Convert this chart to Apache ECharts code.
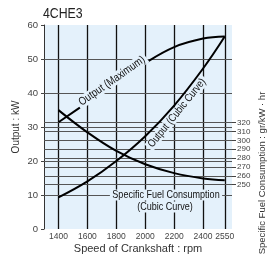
<!DOCTYPE html>
<html>
<head>
<meta charset="utf-8">
<script src="https://cdn.jsdelivr.net/npm/echarts@6/dist/echarts.min.js"></script>
<style>
html, body { margin: 0; padding: 0; background: #fff; }
#chart { width: 273px; height: 255px; }
</style>
</head>
<body>
<div id="chart"></div>
<script>
// data
const speed = [1400, 1600, 1800, 2000, 2200, 2400, 2550];
const outputMax = [31.4, 37.2, 43, 48.8, 53.5, 56, 56.6];
const outputCubic = [9.3, 14, 20, 27.3, 36.3, 47.2, 56.6];
const fuelCons = [334, 309, 288, 273, 263, 257, 255];

const speedTicks = [1400, 1600, 1800, 2000, 2200, 2400, 2550];
const outputTicks = [10, 20, 30, 40, 50];
const fuelTicks = [250, 260, 270, 280, 290, 300, 310, 320];

const FONT = '"Liberation Sans", Arial, sans-serif';
const PLOT_BG = '#e4f1fb';
const NARROW_SCALE = 0.82; // no condensed face installed, squeeze the regular one

const chart = echarts.init(document.getElementById('chart'));

function gridLines(values, key, color, width) {
    return {
        symbol: ['none', 'none'],
        silent: true,
        animation: false,
        z: 1,
        label: { show: false },
        emphasis: { disabled: true },
        lineStyle: { color: color, width: width, type: 'solid' },
        data: values.map(v => ({ [key]: v }))
    };
}

function curve(values, yIndex) {
    return {
        type: 'line',
        yAxisIndex: yIndex,
        data: speed.map((s, i) => [s, values[i]]),
        smooth: 0.4,
        showSymbol: false,
        silent: true,
        z: 3,
        lineStyle: { color: '#000', width: 2 }
    };
}

// condensed-looking text label, angle in degrees (counter-clockwise)
function narrowText(text, x, y, size, angle, z, bg) {
    return {
        type: 'text', x: x, y: y, z: z,
        rotation: angle * Math.PI / 180,
        scaleX: NARROW_SCALE,
        style: {
            text: text,
            font: size + 'px ' + FONT, fill: '#111',
            align: 'center', verticalAlign: 'middle',
            backgroundColor: bg ? PLOT_BG : null,
            padding: bg ? [0, 3] : 0
        }
    };
}

const option = {
    animation: false,
    grid: {
        left: 44, right: 41, top: 25, bottom: 26,
        outerBoundsMode: 'none',
        containLabel: false,
        show: true, backgroundColor: PLOT_BG, borderWidth: 0
    },
    xAxis: {
        type: 'value',
        min: 1300,
        max: 2600,
        name: 'Speed of Crankshaft : rpm',
        nameLocation: 'middle',
        nameGap: 14,
        nameMoveOverlap: false,
        nameTextStyle: { fontFamily: FONT, fontSize: 11, color: '#333' },
        axisLine: { show: false },
        axisTick: { show: false },
        splitLine: { show: false },
        axisLabel: {
            customValues: speedTicks,
            hideOverlap: false,
            formatter: v => String(v),
            fontFamily: FONT, fontSize: 8.5, color: '#444', margin: 3
        }
    },
    yAxis: [{
        type: 'value',
        min: 0,
        max: 60,
        interval: 10,
        name: 'Output : kW',
        nameLocation: 'middle',
        nameGap: 23,
        nameMoveOverlap: false,
        nameTextStyle: { fontFamily: FONT, fontSize: 10, color: '#333' },
        axisLine: { show: true, lineStyle: { color: '#333', width: 1 } },
        axisTick: { show: true, length: 3, lineStyle: { color: '#444' } },
        splitLine: { show: false },
        axisLabel: { fontFamily: FONT, fontSize: 9.5, color: '#444', margin: 6 }
    }, {
        type: 'value',
        position: 'right',
        min: 200,
        max: 430,
        axisLine: { show: false },
        axisTick: { show: true, customValues: fuelTicks, length: 4, lineStyle: { color: '#444' } },
        splitLine: { show: false },
        axisLabel: {
            customValues: fuelTicks,
            hideOverlap: false,
            formatter: v => String(v),
            fontFamily: FONT, fontSize: 8, color: '#444', margin: 5
        }
    }],
    graphic: [
        {
            type: 'text', x: 262, y: 173, rotation: Math.PI / 2, z: 2,
            style: {
                text: 'Specific Fuel Consumption : gr/kW · hr',
                font: '9.5px ' + FONT, fill: '#333',
                align: 'center', verticalAlign: 'middle'
            }
        },
        {
            type: 'text', x: 43, y: 14, z: 2, scaleX: NARROW_SCALE,
            style: {
                text: '4CHE3', font: '15px ' + FONT, fill: '#222',
                align: 'left', verticalAlign: 'middle'
            }
        },
        narrowText('Output (Maximum)', 112, 81, 11.5, 35, 10, true),
        narrowText('Output (Cubic Curve)', 177, 113, 11, 51, 2, true),
        narrowText('Specific Fuel Consumption', 166, 195, 11, 0, 2, true),
        narrowText('(Cubic Curve)', 165, 207, 11, 0, 2, true)
    ],
    series: [
        { type: 'line', data: [], silent: true, markLine: gridLines(speedTicks, 'xAxis', '#111', 1.3) },
        { type: 'line', data: [], silent: true, markLine: gridLines(outputTicks, 'yAxis', '#555', 1) },
        { type: 'line', yAxisIndex: 1, data: [], silent: true, markLine: gridLines(fuelTicks, 'yAxis', '#555', 1) },
        curve(outputMax, 0),
        curve(outputCubic, 0),
        curve(fuelCons, 1)
    ]
};

chart.setOption(option);
</script>
</body>
</html>
